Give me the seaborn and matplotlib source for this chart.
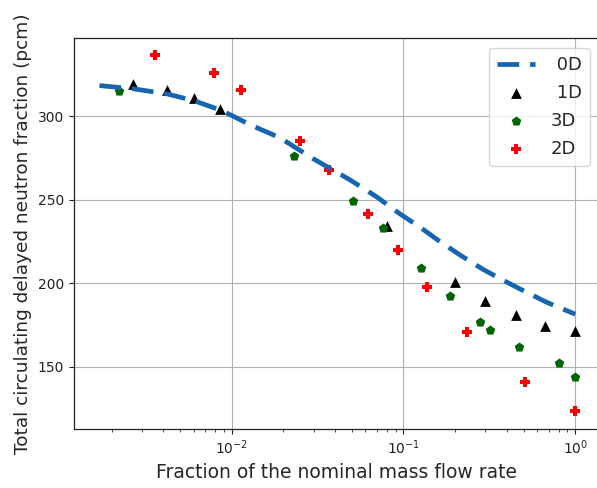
import matplotlib
matplotlib.use("Agg")
import matplotlib.pyplot as plt
import seaborn as sns
import numpy as np
import pandas as pd

# ---- data ----
x_0d = [0.0017, 0.0027, 0.0042, 0.006, 0.0085, 0.01, 0.0128, 0.0191, 0.0299, 0.0488,
        0.0698, 0.0954, 0.125, 0.16, 0.213, 0.291, 0.381, 0.477, 0.682, 1.0]
y_0d = [318.5, 316.5, 313.5, 309.5, 304.0, 300.6, 295.0, 287.2, 274.6, 262.0,
        251.8, 241.6, 233.6, 225.6, 217.0, 208.3, 201.8, 196.6, 188.6, 181.5]

x_1d = [0.00265, 0.0042, 0.006, 0.0085, 0.08, 0.2, 0.3, 0.45, 0.67, 1.0]
y_1d = [319.6, 315.6, 311.0, 304.6, 234.6, 200.6, 189.2, 181.2, 174.2, 171.4]

x_3d = [0.00222, 0.0231, 0.051, 0.0762, 0.127, 0.187, 0.279, 0.318, 0.472, 0.80, 1.0]
y_3d = [315.0, 276.3, 249.2, 233.2, 209.2, 192.2, 176.8, 172.2, 161.6, 152.2, 143.6]

x_2d = [0.00356, 0.00792, 0.0113, 0.025, 0.0368, 0.0619, 0.0925, 0.137, 0.233, 0.507, 1.0]
y_2d = [336.6, 326.0, 315.6, 285.2, 268.0, 241.6, 219.8, 197.6, 171.0, 140.6, 123.4]

labels = [" 0D", " 1D", "3D", "2D"]

sns.set_style("ticks")
plt.rcParams["font.family"] = ["DejaVu Sans"]

fig = plt.figure(figsize=(5.97, 4.88), dpi=100)
ax = fig.add_axes([74 / 597, (488 - 429) / 488, (599 - 74) / 597, (429 - 38) / 488])

sns.lineplot(x=x_0d, y=y_0d, ax=ax, color="#1565b0", linewidth=3.4, label=labels[0],
             linestyle="--", sort=False)
ax.lines[0].set_dashes((4.6, 2.3))
sns.scatterplot(x=x_1d, y=y_1d, ax=ax, marker="^", color="black", s=60, linewidth=0,
                label=labels[1])
sns.scatterplot(x=x_3d, y=y_3d, ax=ax, marker="p", color="#006400", s=52, linewidth=0,
                label=labels[2])
sns.scatterplot(x=x_2d, y=y_2d, ax=ax, marker="P", color="red", s=55, linewidth=0,
                label=labels[3])

ax.set_xscale("log")
ax.set_xlim(0.001208, 1.374)
ax.set_ylim(112.7, 347.0)
ax.set_yticks([150, 200, 250, 300])
ax.grid(True, which="major", color="#b0b0b0", linewidth=0.8)
ax.tick_params(axis="both", which="major", labelsize=10, colors="#222222", length=3.5)
ax.tick_params(axis="x", which="minor", length=2, colors="#222222")
for s in ax.spines.values():
    s.set_color("#222222")
    s.set_linewidth(0.9)

ax.set_xlabel("Fraction of the nominal mass flow rate", fontsize=13.5)
ax.set_ylabel("Total circulating delayed neutron fraction (pcm)", fontsize=13.3)

leg = ax.legend(loc="upper right", bbox_to_anchor=((590 - 74) / (599 - 74), (429 - 48) / (429 - 38)),
                borderaxespad=0.0,
                fontsize=13, handlelength=2.1, handletextpad=0.9, labelspacing=0.55,
                borderpad=0.45, frameon=True)
leg.get_frame().set_edgecolor("#cccccc")

fig.savefig("out.png", dpi=100)
